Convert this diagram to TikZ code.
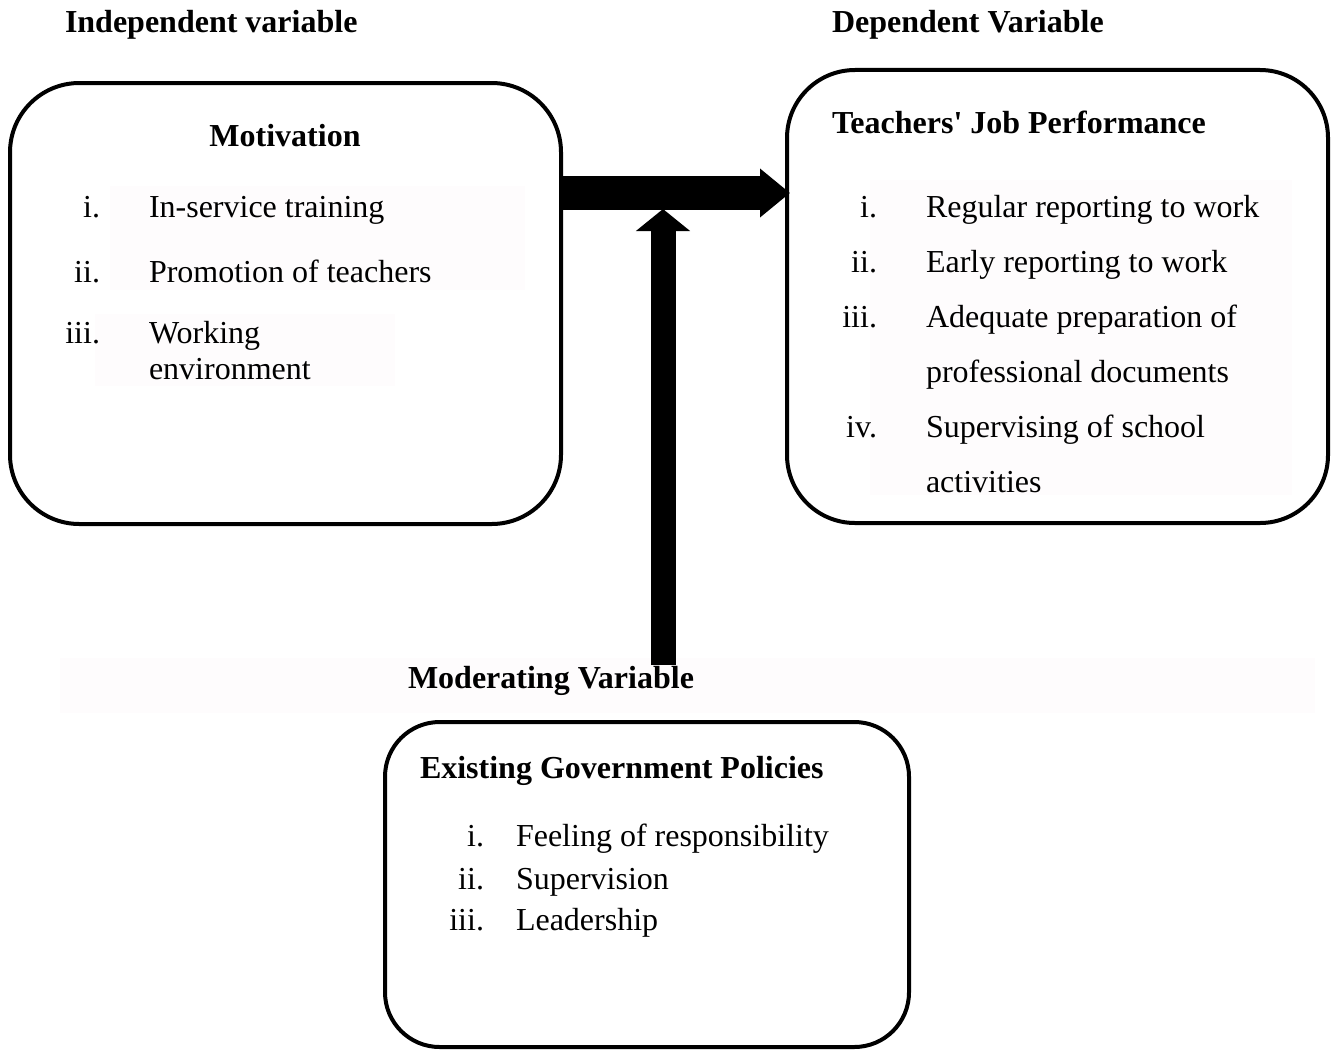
\documentclass[tikz,border=0pt]{standalone}
\usepackage{fontspec}
% plain family: no TeX quote mapping, so ' stays a straight quote
\newfontfamily\plainserif{Liberation Serif}
\usetikzlibrary{arrows.meta}
\definecolor{panel}{RGB}{254,252,253}
\begin{document}
\begin{tikzpicture}[x=0.75pt,y=-0.75pt,
  every node/.style={inner sep=0pt,outer sep=0pt,font=\plainserif\fontsize{24}{28}\selectfont},
  frame/.style={draw=black,line width=3pt},
  head/.style={anchor=base west,font=\plainserif\fontsize{24}{28}\selectfont\bfseries},
  num/.style={anchor=base east},
  item/.style={anchor=base west},
  shade/.style={fill=panel,draw=none},
  bigarrow/.style={line width=25.5pt,-{Triangle[length=22.5pt,width=35.25pt]}},
  uparrow/.style={line width=18.75pt,-{Triangle[length=16.5pt,width=39.75pt]}}]
\useasboundingbox[fill=white] (0,0) rectangle (1333,1049);

% faint panels behind the text blocks
\fill[shade] (110,186) rectangle (525,290);
\fill[shade] (95,314) rectangle (395,386);
\fill[shade] (870,180) rectangle (1292,495);
\fill[shade] (60,658) rectangle (1315,713);

% column headings
\node[head] (indep) at (65,33) {Independent variable};
\node[head] (dep) at (832,33) {Dependent Variable};

% independent variable box
\draw[frame,rounded corners=52pt] (10,83) rectangle (561,524);
\coordinate (motE) at (561,193);
\node[anchor=base,font=\plainserif\fontsize{24}{28}\selectfont\bfseries] (mot) at (285,146) {Motivation};
\node[num] (m1n) at (100,217) {i.};
\node[item] (m1) at (149,217) {In-service training};
\node[num] (m2n) at (100,282) {ii.};
\node[item] (m2) at (149,282) {Promotion of teachers};
\node[num] (m3n) at (100,343) {iii.};
\node[item] (m3) at (149,343) {Working};
\node[item] (m3b) at (149,379) {environment};

% dependent variable box
\draw[frame,rounded corners=51pt] (787,70) rectangle (1328,523);
\coordinate (perfW) at (790,193);
\node[head] (perf) at (832,133) {Teachers' Job Performance};
\node[num] (p1n) at (877,217) {i.};
\node[item] (p1) at (926,217) {Regular reporting to work};
\node[num] (p2n) at (877,272) {ii.};
\node[item] (p2) at (926,272) {Early reporting to work};
\node[num] (p3n) at (877,327) {iii.};
\node[item] (p3) at (926,327) {Adequate preparation of};
\node[item] (p3b) at (926,382) {professional documents};
\node[num] (p4n) at (877,437) {iv.};
\node[item] (p4) at (926,437) {Supervising of school};
\node[item] (p4b) at (926,492) {activities};

% moderating variable box
\node[head] (mod) at (408,688) {Moderating Variable};
\draw[frame,rounded corners=41pt] (385,722) rectangle (909,1047);
\node[head] (gov) at (420,778) {Existing Government Policies};
\node[num] (g1n) at (484,846) {i.};
\node[item] (g1) at (516,846) {Feeling of responsibility};
\node[num] (g2n) at (484,889) {ii.};
\node[item] (g2) at (516,889) {Supervision};
\node[num] (g3n) at (484,930) {iii.};
\node[item] (g3) at (516,930) {Leadership};

% connectors
\coordinate (modTop) at (663,665);
\coordinate (shaftLow) at (663,209);
\draw[bigarrow] (motE) -- (perfW);
\draw[uparrow] (modTop) -- (shaftLow);
\end{tikzpicture}
\end{document}
